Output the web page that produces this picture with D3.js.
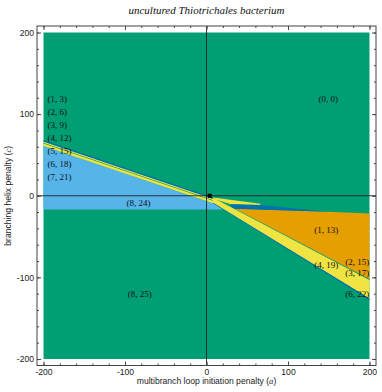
<!DOCTYPE html>
<html><head><meta charset="utf-8">
<script src="https://cdn.jsdelivr.net/npm/d3@7"></script>
<style>
html,body{margin:0;padding:0;background:#fff;}
svg{display:block;}
</style></head>
<body>
<svg id="chart" width="382" height="392"></svg>
<script>
// ---------- data ----------
const titleText = "uncultured Thiotrichales bacterium";
const paramDomain = [-200, 200];
const majorTicks = [-200, -100, 0, 100, 200];
const minorTicks = d3.range(-200, 201, 20);

// region boundary polygons, in (a, c) parameter space
const topBandTop    = [[-200, 68.2], [8, -2]];
const topBandBottom = [[-200, 60.9], [8, -9.3]];
const lightBlueRegion = [[-200, -17], [-200, 60.9], [8, -9.3], [20.5, -17]];
const lowerBandTop    = [[8, -2], [200, -102]];
const lowerBandBottom = [[8, -9.3], [200, -128]];
const orangeRegion = [[35, -16.06], [150, -19.5], [200, -21.6], [200, -102]];
const upperYellow = [[8, -2], [66, -9.8], [66, -11.4], [30, -10.5], [12, -5]];
const upperBlue = [[30, -10.5], [66, -11.4], [150, -19.5], [35, -16.06], [30, -13.4]];
// stripes inside bands: [from fraction, to fraction, colour key]
const topBandStripes = [[0, 0.27, "blue"], [0.27, 0.5, "yellow"], [0.5, 0.57, "green"], [0.57, 1, "yellow"]];
const lowerBandStripes = [[0, 0.05, "green"], [0.05, 0.92, "yellow"], [0.92, 1, "blue"]];
const dotPoint = [4, 0];

const labelText = ["(1, 3)", "(2, 6)", "(3, 9)", "(4, 12)", "(5, 15)", "(6, 18)", "(7, 21)",
  "(8, 24)", "(8, 25)", "(0, 0)", "(1, 13)", "(4, 19)", "(2, 15)", "(3, 17)", "(6, 22)"];
const labelA = [-195, -195, -195, -195, -195, -195, -195, -83.4, -82, 149.3, 147, 147, 185, 185, 185];
const labelC = [118.5, 103, 87, 71, 55, 39, 23, -8.6, -120, 118.5, -42, -84.5, -81.3, -94.3, -120.8];
const labelAnchor = ["start","start","start","start","start","start","start",
  "middle","middle","middle","middle","middle","middle","middle","middle"];

const colors = {green: "#009E73", lightblue: "#56B4E9", orange: "#E69F00", yellow: "#F0E442", blue: "#0072B2"};

// ---------- layout ----------
const svg = d3.select("#chart");
const x = d3.scaleLinear().domain([-208, 208]).range([37, 376]);
const y = d3.scaleLinear().domain([-208, 208]).range([365.5, 26]);
const line = d3.line().x(d => x(d[0])).y(d => y(d[1]));
const poly = pts => line(pts) + "Z";
const lerp = (p, q, t) => [p[0] + (q[0] - p[0]) * t, p[1] + (q[1] - p[1]) * t];

const g = svg.append("g");
// base region (0,0)/(8,25)
g.append("path").attr("fill", colors.green)
  .attr("d", poly([[paramDomain[0], paramDomain[0]], [paramDomain[1], paramDomain[0]],
                   [paramDomain[1], paramDomain[1]], [paramDomain[0], paramDomain[1]]]));
g.append("path").attr("fill", colors.lightblue).attr("d", poly(lightBlueRegion));

function band(topL, botL, stripes) {
  stripes.forEach(([f0, f1, key]) => {
    const p = [lerp(topL[0], botL[0], f0), lerp(topL[1], botL[1], f0),
               lerp(topL[1], botL[1], f1), lerp(topL[0], botL[0], f1)];
    g.append("path").attr("fill", colors[key]).attr("d", poly(p));
  });
}
band(topBandTop, topBandBottom, topBandStripes);
band(lowerBandTop, lowerBandBottom, lowerBandStripes);
g.append("path").attr("fill", colors.orange).attr("d", poly(orangeRegion));
g.append("path").attr("fill", colors.yellow).attr("d", poly(upperYellow));
g.append("path").attr("fill", colors.blue).attr("d", poly(upperBlue));

// zero lines
svg.append("line").attr("x1", x(-208)).attr("x2", x(208)).attr("y1", y(0)).attr("y2", y(0))
  .attr("stroke", "#1a1a1a").attr("stroke-width", 1).attr("stroke-opacity", 0.85);
svg.append("line").attr("x1", x(0)).attr("x2", x(0)).attr("y1", y(-208)).attr("y2", y(208))
  .attr("stroke", "#1a1a1a").attr("stroke-width", 1).attr("stroke-opacity", 0.85);
svg.append("rect").attr("x", x(dotPoint[0]) - 2).attr("y", y(dotPoint[1]) - 2)
  .attr("width", 4).attr("height", 4).attr("fill", "#000");

// region labels
svg.append("g").selectAll("text").data(labelText).join("text")
  .attr("x", (d, i) => x(labelA[i])).attr("y", (d, i) => y(labelC[i]))
  .attr("dy", "0.35em").attr("text-anchor", (d, i) => labelAnchor[i])
  .attr("font-family", "Liberation Serif, serif").attr("font-size", 9).attr("fill", "#111")
  .text(d => d);

// frame
svg.append("rect").attr("x", 37).attr("y", 26).attr("width", 339).attr("height", 339.5)
  .attr("fill", "none").attr("stroke", "#444").attr("stroke-width", 1);

const fmt = d => String(d);
function styleAxis(sel) {
  sel.select(".domain").remove();
  sel.selectAll("line").attr("stroke", "#444");
  sel.selectAll("text").attr("font-family", "Liberation Sans, Arial, sans-serif")
    .attr("font-size", 8.6).attr("fill", "#222");
}
const bottomY = y(-208), leftX = x(-208), topY = y(208), rightX = x(208);
svg.append("g").attr("transform", `translate(0,${bottomY})`)
  .call(d3.axisBottom(x).tickValues(minorTicks).tickSize(-2).tickFormat("")).call(styleAxis);
svg.append("g").attr("transform", `translate(0,${bottomY})`)
  .call(d3.axisBottom(x).tickValues(majorTicks).tickSize(-4).tickPadding(3).tickFormat(fmt)).call(styleAxis);
svg.append("g").attr("transform", `translate(0,${topY})`)
  .call(d3.axisTop(x).tickValues(minorTicks).tickSize(-2).tickFormat("")).call(styleAxis);
svg.append("g").attr("transform", `translate(0,${topY})`)
  .call(d3.axisTop(x).tickValues(majorTicks).tickSize(-4).tickFormat("")).call(styleAxis);
svg.append("g").attr("transform", `translate(${leftX},0)`)
  .call(d3.axisLeft(y).tickValues(minorTicks).tickSize(-2).tickFormat("")).call(styleAxis);
svg.append("g").attr("transform", `translate(${leftX},0)`)
  .call(d3.axisLeft(y).tickValues(majorTicks).tickSize(-4).tickPadding(3).tickFormat(fmt)).call(styleAxis);
svg.append("g").attr("transform", `translate(${rightX},0)`)
  .call(d3.axisRight(y).tickValues(minorTicks).tickSize(-2).tickFormat("")).call(styleAxis);
svg.append("g").attr("transform", `translate(${rightX},0)`)
  .call(d3.axisRight(y).tickValues(majorTicks).tickSize(-4).tickFormat("")).call(styleAxis);

// title
svg.append("text").attr("x", x(0)).attr("y", 14).attr("text-anchor", "middle")
  .attr("font-family", "Liberation Serif, serif").attr("font-style", "italic")
  .attr("font-size", 11).attr("fill", "#111").text(titleText);

// axis titles
const xt = svg.append("text").attr("x", x(0)).attr("y", 384).attr("text-anchor", "middle")
  .attr("font-family", "Liberation Sans, Arial, sans-serif").attr("font-size", 8.6).attr("fill", "#222");
xt.append("tspan").text("multibranch loop initiation penalty (");
xt.append("tspan").attr("font-family", "Liberation Serif, serif").attr("font-style", "italic").text("a");
xt.append("tspan").text(")");

const yt = svg.append("text").attr("transform", `translate(11,${y(0)}) rotate(-90)`)
  .attr("text-anchor", "middle")
  .attr("font-family", "Liberation Sans, Arial, sans-serif").attr("font-size", 8.6).attr("fill", "#222");
yt.append("tspan").text("branching helix penalty (");
yt.append("tspan").attr("font-family", "Liberation Serif, serif").attr("font-style", "italic").text("c");
yt.append("tspan").text(")");
</script>
</body></html>
